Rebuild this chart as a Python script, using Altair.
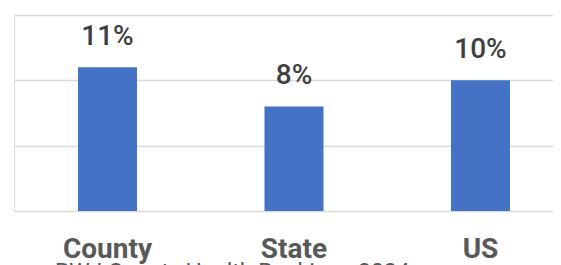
import altair as alt
import pandas as pd

categories = ["County", "State", "US"]
values = [0.11, 0.08, 0.10]
labels = ["11%", "8%", "10%"]
source = "RWJ County Health Rankings 2024"

df = pd.DataFrame({"cat": categories, "val": values, "lab": labels})
src = pd.DataFrame({"t": [source]})

x = alt.X("cat:N", sort=categories,
          scale=alt.Scale(paddingInner=0.6836, paddingOuter=0.2869, align=0.598),
          axis=alt.Axis(title=None, labelAngle=0, domain=False, ticks=False, grid=False,
                        labelFont="Roboto", labelFontSize=28, labelFontWeight="bold",
                        labelColor="#595959", labelPadding=24, labelBaseline="top"))
y = alt.Y("val:Q", scale=alt.Scale(domain=[0, 0.15], nice=False),
          axis=alt.Axis(title=None, labels=False, ticks=False, domain=False,
                        values=[0, 0.05, 0.10, 0.15], grid=True,
                        gridColor="#d9d9d9", gridWidth=1.5))

bars = alt.Chart(df).mark_bar(color="#4472C4").encode(x=x, y=y)
text = alt.Chart(df).mark_text(dy=-16, baseline="bottom", font="Roboto",
                               fontSize=28, fontWeight=500, color="#404040").encode(
    x=x, y=y, text="lab:N")
note = alt.Chart(src).mark_text(align="left", baseline="top", font="Roboto",
                                fontSize=23, color="#595959").encode(
    text="t:N", x=alt.value(41), y=alt.value(247))

chart = (bars + text + note).properties(
    width=539, height=196,
    autosize=alt.AutoSizeParams(type="none"),
    padding={"left": 6, "top": 7, "right": 0, "bottom": 54},
).configure_view(strokeWidth=0).configure_axis(domain=False).configure(background="white")

chart.save("out.html", embed_options={"renderer": "svg", "actions": False})
